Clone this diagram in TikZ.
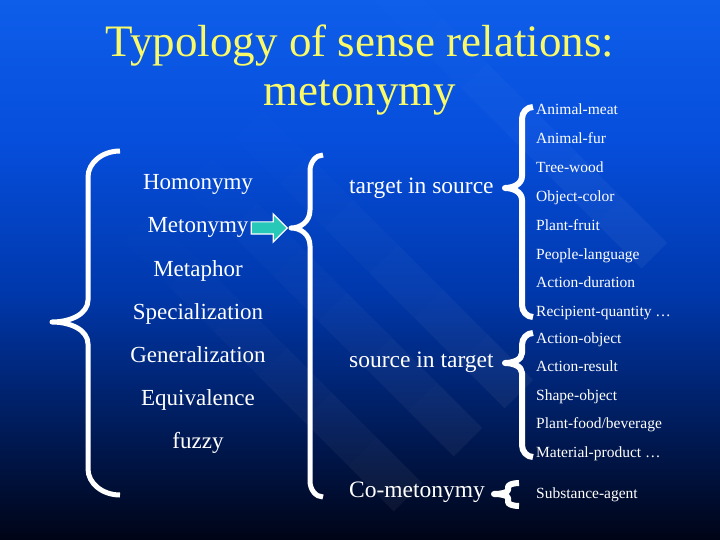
\documentclass[tikz,border=0pt]{standalone}
\usepackage{fontspec}
\setmainfont{Liberation Serif}
\usetikzlibrary{positioning,shapes.arrows}

\definecolor{bgtop}{RGB}{14,94,234}
\definecolor{bgc3}{RGB}{6,78,220}
\definecolor{bgc2}{RGB}{0,56,172}
\definecolor{bgc1}{RGB}{0,24,80}
\definecolor{bgbottom}{RGB}{0,4,22}
\definecolor{titleyellow}{RGB}{250,250,105}
\definecolor{arrowfill}{RGB}{40,200,185}

\pgfdeclareverticalshading{slidebg}{100bp}{color(0bp)=(bgbottom); color(25bp)=(bgbottom); color(34bp)=(bgc1); color(48bp)=(bgc2); color(62bp)=(bgc3); color(75bp)=(bgtop); color(100bp)=(bgtop)}

% xend, xspine, xtip, ytop, ytip, ybot, corner, tip, width
\newcommand{\slidebrace}[9]{%
  \draw[bracepath=#9] (#1,#4) .. controls ({#2+0.45*(#1-#2)},#4) and (#2,{#4+0.45*#7}) .. (#2,{#4+#7})
    -- (#2,{#5-#8}) .. controls (#2,{#5-0.35*#8}) and ({#3+0.5*(#2-#3)},#5) .. (#3,#5)
    .. controls ({#3+0.5*(#2-#3)},#5) and (#2,{#5+0.35*#8}) .. (#2,{#5+#8})
    -- (#2,{#6-#7}) .. controls (#2,{#6-0.45*#7}) and ({#2+0.45*(#1-#2)},#6) .. (#1,#6);}

\begin{document}
\begin{tikzpicture}[x=1pt,y=-1pt,
  leftword/.style={font=\fontsize{23}{27}\selectfont, text=white, inner sep=0pt, anchor=base},
  midword/.style={font=\fontsize{23.5}{28}\selectfont, text=white, inner sep=0pt, anchor=base west},
  kind/.style={font=\fontsize{15.5}{18}\selectfont, text=white, inner sep=0pt, anchor=base west},
  titletext/.style={font=\fontsize{45}{50}\selectfont, text=titleyellow, inner sep=0pt, anchor=base},
  bracepath/.style={draw=white, line width=#1, line join=round},
  band/.style={fill=white, fill opacity=#1},
  fatarrow/.style={single arrow, draw=white, fill=arrowfill, line width=1.2pt, minimum height=36pt, minimum width=27pt, single arrow head extend=8pt, inner sep=5.5pt}]

% background
\shade[shading=slidebg] (0,0) rectangle (720,540);
\useasboundingbox (0,0) rectangle (720,540);
\begin{scope}
\clip (0,0) rectangle (720,540);
\foreach \px/\py/\w in {667/243/36, 533/380/40, 482/428/40, 422/483/40}
  \foreach \k in {1,...,6}
    \fill[band=0.008*(7-\k)] ({\px-45*(\k-1)},{\py-45*(\k-1)}) -- ({\px-\w/1.414-45*(\k-1)},{\py+\w/1.414-45*(\k-1)})
      -- ({\px-\w/1.414-45*\k},{\py+\w/1.414-45*\k}) -- ({\px-45*\k},{\py-45*\k}) -- cycle;
\end{scope}

% title
\node[titletext] (title1) at (360,57) {Typology of sense relations:};
\node[titletext] (title2) at (360,106) {metonymy};

% left column
\foreach \name/\txt [count=\i] in {homonymy/Homonymy, metonymy/Metonymy, metaphor/Metaphor,
    specialization/Specialization, generalization/Generalization, equivalence/Equivalence, fuzzy/fuzzy}
  \node[leftword] (\name) at (198,147+43*\i) {\txt};
\slidebrace{120}{88}{52}{151}{322}{495}{26}{22}{5pt}

\node[fatarrow, anchor=west] (arrow) at ([xshift=2pt]metonymy.east) {};

% middle column
\slidebrace{323}{310}{291}{155}{228}{497}{16}{18}{5pt}
\node[midword] (tis) at (349,194) {target in source};
\node[midword] (sit) at (349,367) {source in target};
\node[midword] (comet) at (349,497) {Co-metonymy};

% right column
\slidebrace{533}{522}{505}{107}{188}{317}{12}{12}{6pt}
\foreach \txt [count=\i] in {Animal-meat, Animal-fur, Tree-wood, Object-color, Plant-fruit,
    People-language, Action-duration, Recipient-quantity \dots}
  \node[kind] (tis-\i) at (536,115+28.8*\i-28.8) {\txt};

\slidebrace{533}{522}{505}{333}{363}{457}{12}{10}{6pt}
\foreach \txt [count=\i] in {Action-object, Action-result, Shape-object, Plant-food/beverage,
    Material-product \dots}
  \node[kind] (sit-\i) at (536,343+28.5*\i-28.5) {\txt};

\slidebrace{519}{508}{494}{483}{494}{506}{4}{4}{6pt}
\node[kind] (comet-1) at (536,498) {Substance-agent};

\end{tikzpicture}
\end{document}
